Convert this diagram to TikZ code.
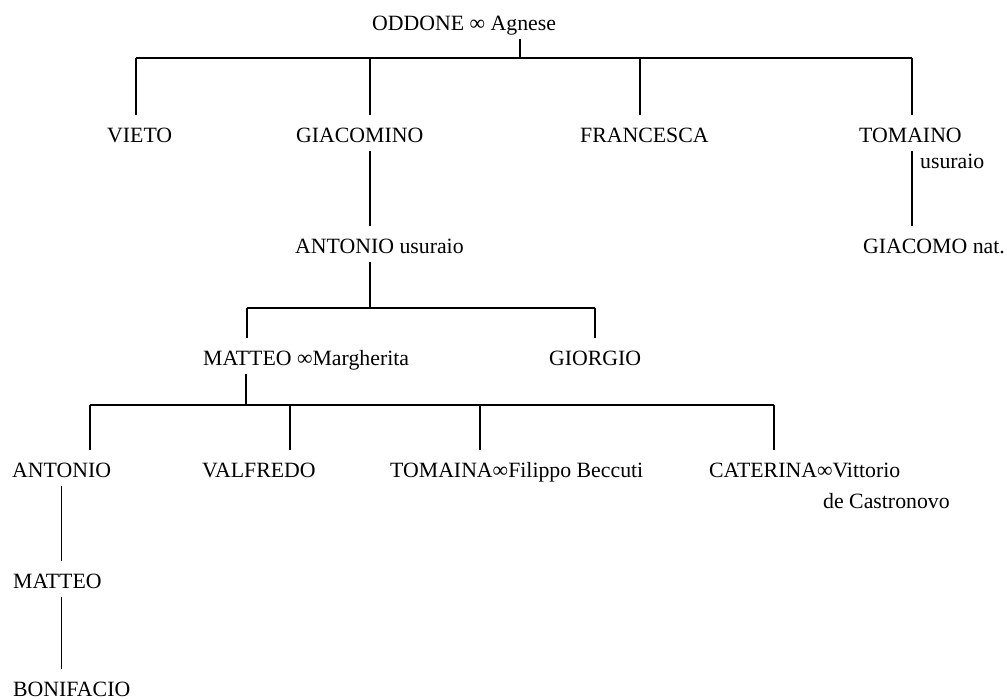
\documentclass[tikz,border=0pt]{standalone}
\usepackage{fontspec}
\setmainfont{Liberation Serif}
\usepackage{tikz}

\begin{document}
\begin{tikzpicture}[x=1pt, y=-1pt,
    every node/.style={font=\fontsize{21.8pt}{26pt}\selectfont},
    person/.style={anchor=base west, inner xsep=0pt, inner ysep=5pt, text height=22pt, text depth=4pt},
    link/.style={line width=1.5pt}]
    \useasboundingbox (0,0) rectangle (1007,699);

    % Generation 1
    \node[person] (oddone) at (372,30) {ODDONE ∞ Agnese};

    % Generation 2
    \node[person] (vieto) at (107,142) {VIETO};
    \node[person] (giacomino) at (296,142) {GIACOMINO};
    \node[person] (francesca) at (580,142) {FRANCESCA};
    \node[person] (tomaino) at (859,142) {TOMAINO};
    \node[person] (tomusur) at (920,168) {usuraio};

    % Generation 3
    \node[person] (antoniou) at (295,253) {ANTONIO usuraio};
    \node[person] (giacomo) at (863,253) {GIACOMO nat.};

    % Generation 4
    \node[person] (matteo) at (203,365) {MATTEO ∞Margherita};
    \node[person] (giorgio) at (549,365) {GIORGIO};

    % Generation 5
    \node[person] (antonio) at (12,477) {ANTONIO};
    \node[person] (valfredo) at (202,477) {VALFREDO};
    \node[person] (tomaina) at (390,477) {TOMAINA∞Filippo Beccuti};
    \node[person] (caterina) at (709,477) {CATERINA∞Vittorio};
    \node[person] (castronovo) at (823,508) {de Castronovo};

    % Generations 6 and 7
    \node[person] (matteob) at (13,588) {MATTEO};
    \node[person] (bonifacio) at (13,696) {BONIFACIO};

    % Junction points
    \coordinate (g1) at (520,58);
    \coordinate (g1a) at (136,58);
    \coordinate (g1b) at (370,58);
    \coordinate (g1c) at (640,58);
    \coordinate (g1d) at (912,58);
    \coordinate (g2) at (370,308);
    \coordinate (g2a) at (247,308);
    \coordinate (g2b) at (595,308);
    \coordinate (g3) at (246,405);
    \coordinate (g3a) at (90,405);
    \coordinate (g3b) at (290,405);
    \coordinate (g3c) at (480,405);
    \coordinate (g3d) at (774,405);

    % Children of Oddone
    \draw[link] (g1) -- (g1 |- oddone.south);
    \draw[link] (g1a) -- (g1d);
    \foreach \j/\n in {g1a/vieto, g1b/giacomino, g1c/francesca, g1d/tomaino}
        \draw[link] (\j) -- (\j |- \n.north);
    \draw[link] (giacomino.south -| g1b) -- (antoniou.north -| g1b);
    \draw[link] (tomaino.south -| g1d) -- (giacomo.north -| g1d);

    % Children of Antonio
    \draw[link] (antoniou.south -| g2) -- (g2);
    \draw[link] (g2a) -- (g2b);
    \foreach \j/\n in {g2a/matteo, g2b/giorgio}
        \draw[link] (\j) -- (\j |- \n.north);

    % Children of Matteo
    \draw[link] (matteo.south -| g3) -- (g3);
    \draw[link] (g3a) -- (g3d);
    \foreach \j/\n in {g3a/antonio, g3b/valfredo, g3c/tomaina, g3d/caterina}
        \draw[link] (\j) -- (\j |- \n.north);

    % Line of Antonio
    \draw[link] (antonio.south) -- (antonio.south |- matteob.north);
    \draw[link] (antonio.south |- matteob.south) -- (antonio.south |- bonifacio.north);
\end{tikzpicture}
\end{document}
